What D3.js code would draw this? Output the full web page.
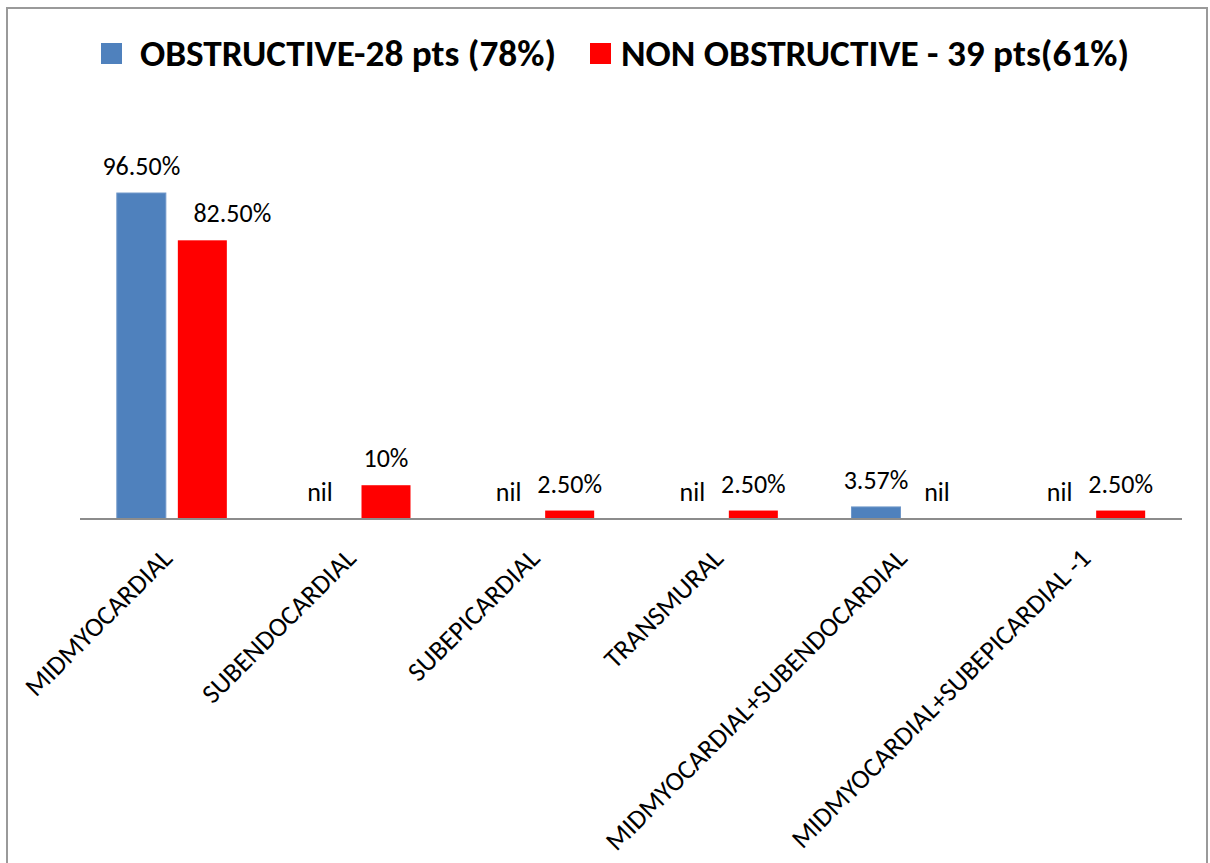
<!DOCTYPE html>
<html>
<head>
<meta charset="utf-8">
<script src="https://cdn.jsdelivr.net/npm/d3@7"></script>
<style>
  html, body { margin: 0; padding: 0; background: #ffffff; }
  svg { display: block; }
  text { font-family: Carlito, "Liberation Sans", Arial, sans-serif; fill: #000; }
</style>
</head>
<body>
<svg id="chart" width="1210" height="863"></svg>
<script>
// ---- data ----
const categories = [
  "MIDMYOCARDIAL",
  "SUBENDOCARDIAL",
  "SUBEPICARDIAL",
  "TRANSMURAL",
  "MIDMYOCARDIAL+SUBENDOCARDIAL",
  "MIDMYOCARDIAL+SUBEPICARDIAL -1"
];
const seriesNames = ["OBSTRUCTIVE-28 pts (78%)", "NON OBSTRUCTIVE - 39 pts(61%)"];
const obstructive = [96.5, 0, 0, 0, 3.57, 0];
const nonObstructive = [82.5, 10, 2.5, 2.5, 0, 2.5];
const obstructiveLabels = ["96.50%", "nil", "nil", "nil", "3.57%", "nil"];
const nonObstructiveLabels = ["82.50%", "10%", "2.50%", "2.50%", "nil", "2.50%"];
const seriesColors = ["#4F81BD", "#FF0000"];

// ---- layout ----
const svg = d3.select("#chart");
const plot = { left: 80, right: 1182, top: 181.2, bottom: 519 };

// outer frame
svg.append("rect")
  .attr("x", 7).attr("y", 8)
  .attr("width", 1200).attr("height", 880)
  .attr("fill", "none").attr("stroke", "#9a9a9a").attr("stroke-width", 2);

const x0 = d3.scaleBand()
  .domain(categories)
  .range([plot.left, plot.right])
  .paddingInner(0.401)
  .paddingOuter(0.2005);

const x1 = d3.scaleBand()
  .domain([0, 1])
  .range([0, x0.bandwidth()])
  .paddingInner(12 / 61);

const y = d3.scaleLinear().domain([0, 100]).range([plot.bottom, plot.top]);

const series = [
  { values: obstructive, labels: obstructiveLabels, color: seriesColors[0] },
  { values: nonObstructive, labels: nonObstructiveLabels, color: seriesColors[1] }
];

// label nudges (manual placement in original)
const nudge = { "1-0": 30, "0-1": -5 };

series.forEach((s, si) => {
  const g = svg.append("g");
  g.selectAll("rect")
    .data(s.values)
    .join("rect")
    .attr("x", (d, i) => x0(categories[i]) + x1(si))
    .attr("y", d => y(d))
    .attr("width", x1.bandwidth())
    .attr("height", d => y(0) - y(d))
    .attr("fill", s.color)
    .attr("stroke", si === 0 ? "#6f97c9" : "none")
    .attr("stroke-width", 1);

  g.selectAll("text")
    .data(s.labels)
    .join("text")
    .attr("x", (d, i) => x0(categories[i]) + x1(si) + x1.bandwidth() / 2 + (nudge[si + "-" + i] || 0))
    .attr("y", (d, i) => y(s.values[i]) - 18)
    .attr("text-anchor", "middle")
    .attr("font-size", 26)
    .text(d => d);
});

// x axis
const xAxis = d3.axisBottom(x0).tickSize(0).tickPadding(0);
const axG = svg.append("g")
  .attr("transform", `translate(0,${plot.bottom})`)
  .call(xAxis);
axG.select(".domain")
  .attr("stroke", "#8c8c8c").attr("stroke-width", 2)
  .attr("d", `M${plot.left},0H${plot.right}`);
axG.selectAll(".tick text")
  .attr("font-family", 'Carlito, "Liberation Sans", Arial, sans-serif')
  .attr("font-size", 27)
  .attr("fill", "#000")
  .attr("text-anchor", "end")
  .attr("dy", 0)
  .attr("transform", "translate(2,41) rotate(-45)");

// legend
const legend = svg.append("g");
const legendItems = [
  { sx: 101, tx: 140, w: 416 },
  { sx: 590, tx: 621, w: 508 }
];
legendItems.forEach((it, i) => {
  legend.append("rect")
    .attr("x", it.sx).attr("y", 43)
    .attr("width", 21).attr("height", 21)
    .attr("fill", seriesColors[i]);
  legend.append("text")
    .attr("x", it.tx).attr("y", 66)
    .attr("font-size", 37)
    .attr("font-weight", "bold")
    .attr("textLength", it.w)
    .attr("lengthAdjust", "spacingAndGlyphs")
    .text(seriesNames[i]);
});
</script>
</body>
</html>
